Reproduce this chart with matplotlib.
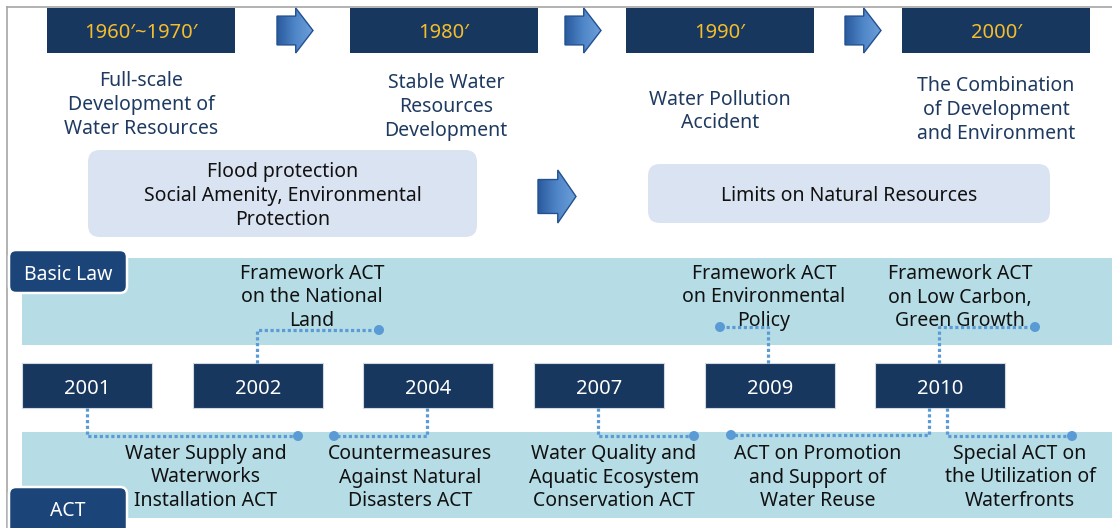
import matplotlib.pyplot as plt
import numpy as np
from matplotlib.patches import Rectangle, FancyBboxPatch, Polygon, Circle
from matplotlib.colors import LinearSegmentedColormap

plt.rcParams['font.family'] = ['Noto Sans', 'DejaVu Sans']

# Text content of the diagram
eras = ['1960′~1970′', '1980′', '1990′', '2000′']
era_notes = ['Full-scale\nDevelopment of\nWater Resources',
             'Stable Water\nResources\nDevelopment',
             'Water Pollution\nAccident',
             'The Combination\nof Development\nand Environment']
themes = ['Flood protection\nSocial Amenity, Environmental\nProtection',
          'Limits on Natural Resources']
years = ['2001', '2002', '2004', '2007', '2009', '2010']
basic_laws = ['Framework ACT\non the National\nLand',
              'Framework ACT\non Environmental\nPolicy',
              'Framework ACT\non Low Carbon,\nGreen Growth']
acts = ['Water Supply and\nWaterworks\nInstallation ACT',
        'Countermeasures\nAgainst Natural\nDisasters ACT',
        'Water Quality and\nAquatic Ecosystem\nConservation ACT',
        'ACT on Promotion\nand Support of\nWater Reuse',
        'Special ACT on\nthe Utilization of\nWaterfronts']
band_labels = ['Basic Law', 'ACT']

# Layout (pixel coordinates)
era_x = [47, 350, 626, 902]
era_note_pos = [(141, 102.5), (446, 104.5), (720, 109), (996, 107.5)]
top_arrow_x = [277, 565, 845]
theme_boxes = [(88, 150, 389, 87), (648, 164, 402, 59)]
year_x = [22, 193, 363, 534, 705, 875]
basic_pos = [312, 764, 960]
act_pos = [206, 410, 614, 818, 1020]
DY = 2.5  # text baseline nudge

NAVY = '#17375e'
GOLD = '#f5bd2c'
TEXTBLUE = '#1f3a60'
BAND = '#b6dce5'
LIGHT = '#dae3f1'
TAB = '#1b4479'
DOT = '#5b9bd5'

fig = plt.figure(figsize=(11.12, 5.28), dpi=100)
ax = fig.add_axes([0, 0, 1, 1])

# frame lines
ax.plot([7, 1112], [7, 7], color='#a6a6a6', lw=1.2)
ax.plot([7, 7], [7, 528], color='#a6a6a6', lw=1.2)

cmap = LinearSegmentedColormap.from_list('arr', ['#2a5a9e', '#4f86c8', '#6d9fd8'])


def block_arrow(x0, y0, w, h):
    sy0 = y0 + h * 0.18
    sy1 = y0 + h * 0.82
    hx = x0 + w * 0.52
    pts = [(x0, sy0), (hx, sy0), (hx, y0), (x0 + w, y0 + h / 2),
           (hx, y0 + h), (hx, sy1), (x0, sy1)]
    poly = Polygon(pts, closed=True, facecolor='none', edgecolor='#23508f',
                   lw=1.0, zorder=4)
    ax.add_patch(poly)
    grad = np.linspace(0, 1, 64).reshape(1, -1)
    im = ax.imshow(grad, cmap=cmap, extent=[x0, x0 + w, y0 + h, y0],
                   aspect='auto', zorder=3)
    im.set_clip_path(poly)


# era boxes
for x, label in zip(era_x, eras):
    ax.add_patch(Rectangle((x, 8), 188, 45, facecolor=NAVY, edgecolor='none'))
    ax.text(x + 94, 31 + DY, label, color=GOLD, fontsize=14.5, ha='center',
            va='center')

for x in top_arrow_x:
    block_arrow(x, 8, 36, 45)

for (x, y), note in zip(era_note_pos, era_notes):
    ax.text(x, y + DY, note, color=TEXTBLUE, fontsize=14, ha='center',
            va='center', multialignment='center', linespacing=1.25)

# theme boxes
for (x, y, w, h), label in zip(theme_boxes, themes):
    ax.add_patch(FancyBboxPatch((x, y), w, h,
                                boxstyle='round,pad=0,rounding_size=12',
                                facecolor=LIGHT, edgecolor='none'))
    ax.text(x + w / 2, y + h / 2 + DY, label, color='#111111', fontsize=14,
            ha='center', va='center', multialignment='center', linespacing=1.25)

block_arrow(538, 170, 38, 53)

# bands
ax.add_patch(Rectangle((22, 258), 1090, 87, facecolor=BAND, edgecolor='none'))
ax.add_patch(Rectangle((22, 432), 1090, 86, facecolor=BAND, edgecolor='none'))

for (y, h), label in zip([(250, 43), (487, 50)], band_labels):
    ax.add_patch(FancyBboxPatch((9, y), 118, h,
                                boxstyle='round,pad=0,rounding_size=7',
                                facecolor=TAB, edgecolor='white', lw=1.8, zorder=5))
    ax.text(68, y + 22 + DY, label, color='white', fontsize=14, ha='center',
            va='center', zorder=6)

for x, label in zip(basic_pos, basic_laws):
    ax.text(x, 295 + DY, label, color='#111111', fontsize=14, ha='center',
            va='center', multialignment='center', linespacing=1.25, zorder=2)

for x, label in zip(act_pos, acts):
    ax.text(x, 475 + DY, label, color='#111111', fontsize=14, ha='center',
            va='center', multialignment='center', linespacing=1.25, zorder=2)

# year boxes
for x, label in zip(year_x, years):
    ax.add_patch(Rectangle((x, 363), 130, 45, facecolor=NAVY, edgecolor='#d0d8e4',
                           lw=0.8))
    ax.text(x + 65, 386 + DY, label, color='white', fontsize=14.5, ha='center',
            va='center')

# dotted connectors: (start x, start y, bend y, end x)
links = [(87, 408, 436, 298),
         (257, 363, 330, 379),
         (427, 408, 436, 334),
         (598, 408, 436, 694),
         (768, 363, 327, 720),
         (939, 363, 327, 1035),
         (929, 408, 435, 731),
         (947, 408, 436, 1072)]
for sx, sy, by, ex in links:
    ax.plot([sx, sx, ex], [sy, by, by], color=DOT, lw=2.3,
            linestyle=(0, (1, 0.8)), solid_capstyle='butt', zorder=7)
    ax.add_patch(Circle((ex, by), 5, facecolor=DOT, edgecolor='none', zorder=8))

ax.set_xlim(0, 1112)
ax.set_ylim(528, 0)
ax.axis('off')
fig.savefig('out.png', dpi=100)
